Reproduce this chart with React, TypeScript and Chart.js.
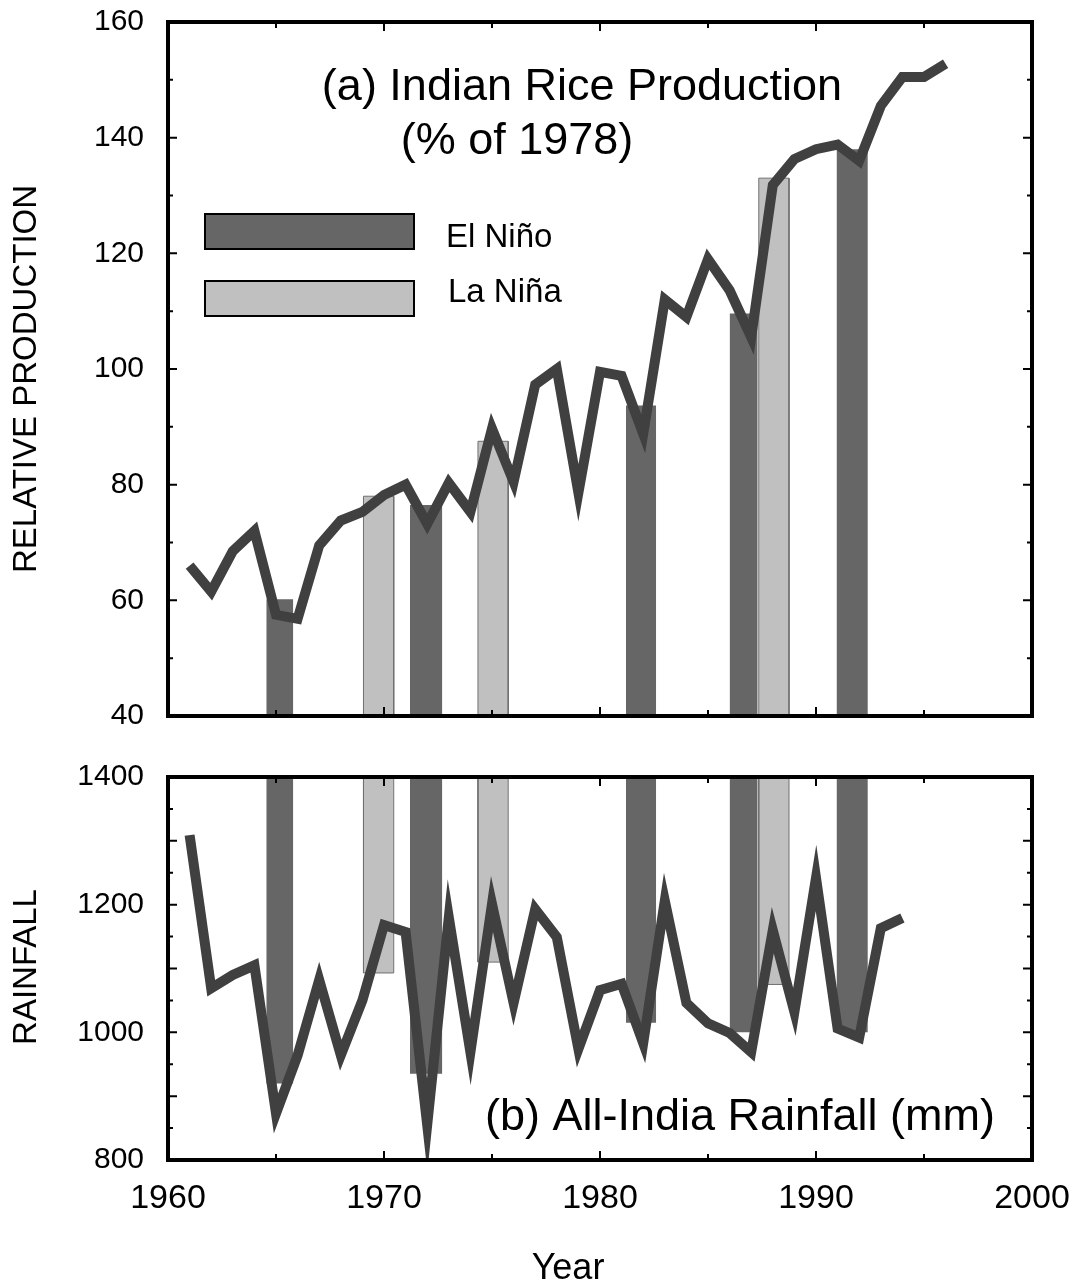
import React, { useEffect, useRef } from "react";
import { Chart, registerables } from "chart.js";

Chart.register(...registerables);

const FONT = "'Liberation Sans', Arial, Helvetica, sans-serif";

// ---- data ----
const productionYears = [1961, 1962, 1963, 1964, 1965, 1966, 1967, 1968, 1969, 1970, 1971, 1972, 1973, 1974, 1975, 1976, 1977, 1978, 1979, 1980, 1981, 1982, 1983, 1984, 1985, 1986, 1987, 1988, 1989, 1990, 1991, 1992, 1993, 1994, 1995, 1996];
const production = [66, 61.5, 68.5, 72, 57.5, 56.8, 69.5, 73.8, 75.3, 78.2, 80, 73.2, 80.3, 75.3, 89.7, 80.5, 97.3, 100, 78.6, 99.5, 98.8, 88.8, 112, 109, 119, 113.6, 105.5, 131.8, 136.3, 138, 138.8, 136, 145.5, 150.5, 150.5, 152.8];

const rainfallYears = [1961, 1962, 1963, 1964, 1965, 1966, 1967, 1968, 1969, 1970, 1971, 1972, 1973, 1974, 1975, 1976, 1977, 1978, 1979, 1980, 1981, 1982, 1983, 1984, 1985, 1986, 1987, 1988, 1989, 1990, 1991, 1992, 1993, 1994];
const rainfall = [1309, 1069, 1090, 1105, 873, 964, 1082, 964, 1050, 1168, 1157, 855, 1180, 969, 1201, 1046, 1193, 1149, 974, 1066, 1076, 983, 1206, 1046, 1014, 999, 969, 1160, 1032, 1242, 1006, 992, 1163, 1179];

const elNinoStart = [1964.55, 1971.2, 1981.2, 1986.0, 1990.95];
const elNinoEnd = [1965.8, 1972.7, 1982.6, 1987.3, 1992.4];
const elNinoProductionTop = [60.2, 76.5, 93.7, 109.6, 138];
const elNinoRainfallBottom = [920, 935, 1015, 1000, 1000];

const laNinaStart = [1969.05, 1974.35, 1987.35];
const laNinaEnd = [1970.45, 1975.75, 1988.75];
const laNinaProductionTop = [78, 87.5, 133];
const laNinaRainfallBottom = [1093, 1110, 1075];

const xTickLabels = [1960, 1970, 1980, 1990, 2000];
const xTickMarks = [1965, 1970, 1975, 1980, 1985, 1990, 1995];
const productionTickMarks = [50, 60, 70, 80, 90, 100, 110, 120, 130, 140, 150];
const rainfallTickMarks = [850, 900, 950, 1000, 1050, 1100, 1150, 1200, 1250, 1300, 1350];

// ---- styles ----
const LINE_COLOR = "#404040";
const EL_NINO_COLOR = "#666666";
const LA_NINA_COLOR = "#c0c0c0";
const LA_NINA_EDGE = "#707070";

function rect(s: number, e: number, base: number, v: number) {
  return [
    { x: s, y: base },
    { x: s, y: v },
    { x: e, y: v },
    { x: e, y: base },
  ];
}

function eventDatasets(
  starts: number[],
  ends: number[],
  values: number[],
  base: number,
  color: string,
  edge: string | null
) {
  return starts.map((s, i) => ({
    type: "line" as const,
    data: rect(s, ends[i], base, values[i]),
    borderColor: edge || color,
    borderWidth: edge ? 1 : 0,
    backgroundColor: color,
    fill: { value: base },
    pointRadius: 0,
    tension: 0,
    order: 2,
  }));
}

function framePlugin(yTicks: number[], majorStep: number) {
  return {
    id: "frame",
    afterDraw(chart: any) {
      const { ctx, chartArea: a, scales } = chart;
      const xs = scales.x;
      const ys = scales.y;
      ctx.save();
      ctx.strokeStyle = "#000";
      ctx.lineWidth = 2;
      ctx.beginPath();
      xTickMarks.forEach((v) => {
        const px = xs.getPixelForValue(v);
        const len = v % 10 === 0 ? 9 : 6;
        ctx.moveTo(px, a.bottom);
        ctx.lineTo(px, a.bottom - len);
        ctx.moveTo(px, a.top);
        ctx.lineTo(px, a.top + len);
      });
      yTicks.forEach((v) => {
        const py = ys.getPixelForValue(v);
        const len = v % majorStep === 0 ? 9 : 5;
        ctx.moveTo(a.left, py);
        ctx.lineTo(a.left + len, py);
        ctx.moveTo(a.right, py);
        ctx.lineTo(a.right - len, py);
      });
      ctx.stroke();
      ctx.lineWidth = 4;
      ctx.strokeRect(a.left, a.top, a.right - a.left, a.bottom - a.top);
      ctx.restore();
    },
  };
}

function text(ctx: CanvasRenderingContext2D, s: string, x: number, y: number, size: number, align: CanvasTextAlign, rotate = false) {
  ctx.save();
  ctx.font = `${size}px ${FONT}`;
  ctx.fillStyle = "#000";
  ctx.textAlign = align;
  if (rotate) {
    ctx.translate(x, y);
    ctx.rotate(-Math.PI / 2);
    ctx.textBaseline = "middle";
    ctx.fillText(s, 0, 0);
  } else {
    ctx.textBaseline = "alphabetic";
    ctx.fillText(s, x, y);
  }
  ctx.restore();
}

const topTextPlugin = {
  id: "topText",
  afterDraw(chart: any) {
    const ctx = chart.ctx as CanvasRenderingContext2D;
    text(ctx, "(a) Indian Rice Production", 582, 100, 45, "center");
    text(ctx, "(% of 1978)", 517, 154, 45, "center");
    ctx.save();
    ctx.lineWidth = 2;
    ctx.strokeStyle = "#000";
    ctx.fillStyle = EL_NINO_COLOR;
    ctx.fillRect(205, 214, 209, 35);
    ctx.strokeRect(205, 214, 209, 35);
    ctx.fillStyle = LA_NINA_COLOR;
    ctx.fillRect(205, 281, 209, 35);
    ctx.strokeRect(205, 281, 209, 35);
    ctx.restore();
    text(ctx, "El Niño", 446, 247, 33, "left");
    text(ctx, "La Niña", 448, 302, 33, "left");
    text(ctx, "RELATIVE PRODUCTION", 27, 379, 33, "center", true);
  },
};

const bottomTextPlugin = {
  id: "bottomText",
  afterDraw(chart: any) {
    const ctx = chart.ctx as CanvasRenderingContext2D;
    text(ctx, "(b) All-India Rainfall (mm)", 740, 385, 45, "center");
    text(ctx, "RAINFALL", 27, 222, 33, "center", true);
    text(ctx, "Year", 568, 534, 36, "center");
  },
};

const W = 1075;
const TOP_H = 745;
const BOT_H = 540;

function noPad(s: any) {
  s.paddingTop = 0;
  s.paddingBottom = 0;
  s.paddingLeft = 0;
  s.paddingRight = 0;
}

export default function App() {
  const topRef = useRef<HTMLCanvasElement>(null);
  const botRef = useRef<HTMLCanvasElement>(null);

  useEffect(() => {
    Chart.defaults.font.family = FONT;
    const xTickFont = { size: 34, family: FONT };
    const yTickFont = { size: 30, family: FONT };

    const top = new Chart(topRef.current!, {
      type: "line",
      data: {
        datasets: [
          {
            data: productionYears.map((x, i) => ({ x, y: production[i] })),
            borderColor: LINE_COLOR,
            borderWidth: 10,
            borderJoinStyle: "miter",
            borderCapStyle: "butt",
            pointRadius: 0,
            tension: 0,
            fill: false,
            order: 0,
          },
          ...eventDatasets(elNinoStart, elNinoEnd, elNinoProductionTop, 40, EL_NINO_COLOR, null),
          ...eventDatasets(laNinaStart, laNinaEnd, laNinaProductionTop, 40, LA_NINA_COLOR, LA_NINA_EDGE),
        ] as any,
      },
      options: {
        responsive: false,
        animation: false,
        devicePixelRatio: 1,
        layout: { autoPadding: false, padding: { top: 22, right: W - 1032, left: 0, bottom: 0 } },
        plugins: { legend: { display: false }, tooltip: { enabled: false }, title: { display: false } },
        scales: {
          x: {
            type: "linear",
            min: 1960,
            max: 2000,
            grid: { display: false },
            border: { display: false },
            ticks: { display: false },
            afterFit: (s: any) => {
              s.height = TOP_H - 716;
              noPad(s);
            },
          },
          y: {
            type: "linear",
            min: 40,
            max: 160,
            grid: { display: false, drawTicks: false },
            border: { display: false },
            ticks: {
              stepSize: 20,
              font: yTickFont,
              color: "#000",
              padding: 24,
              callback: (v: any) => String(v),
            },
            afterFit: (s: any) => {
              s.width = 168;
              noPad(s);
            },
          },
        },
      } as any,
      plugins: [framePlugin(productionTickMarks, 20), topTextPlugin],
    });

    const bottom = new Chart(botRef.current!, {
      type: "line",
      data: {
        datasets: [
          {
            data: rainfallYears.map((x, i) => ({ x, y: rainfall[i] })),
            borderColor: LINE_COLOR,
            borderWidth: 10,
            borderJoinStyle: "miter",
            borderCapStyle: "butt",
            pointRadius: 0,
            tension: 0,
            fill: false,
            order: 0,
          },
          ...eventDatasets(elNinoStart, elNinoEnd, elNinoRainfallBottom, 1400, EL_NINO_COLOR, null),
          ...eventDatasets(laNinaStart, laNinaEnd, laNinaRainfallBottom, 1400, LA_NINA_COLOR, LA_NINA_EDGE),
        ] as any,
      },
      options: {
        responsive: false,
        animation: false,
        devicePixelRatio: 1,
        layout: { autoPadding: false, padding: { top: 777 - TOP_H, right: W - 1032, left: 0, bottom: 0 } },
        plugins: { legend: { display: false }, tooltip: { enabled: false }, title: { display: false } },
        scales: {
          x: {
            type: "linear",
            min: 1960,
            max: 2000,
            grid: { display: false, drawTicks: false },
            border: { display: false },
            afterBuildTicks: (s: any) => {
              s.ticks = xTickLabels.map((value) => ({ value }));
            },
            ticks: {
              font: xTickFont,
              color: "#000",
              padding: 18,
              maxRotation: 0,
              autoSkip: false,
              callback: (v: any) => String(v),
            },
            afterFit: (s: any) => {
              s.height = BOT_H - (1160 - TOP_H);
              noPad(s);
            },
          },
          y: {
            type: "linear",
            min: 800,
            max: 1400,
            grid: { display: false, drawTicks: false },
            border: { display: false },
            ticks: {
              stepSize: 200,
              font: yTickFont,
              color: "#000",
              padding: 24,
              callback: (v: any) => String(v),
            },
            afterFit: (s: any) => {
              s.width = 168;
              noPad(s);
            },
          },
        },
      } as any,
      plugins: [framePlugin(rainfallTickMarks, 100), bottomTextPlugin],
    });

    return () => {
      top.destroy();
      bottom.destroy();
    };
  }, []);

  return (
    <div style={{ position: "absolute", left: 0, top: 0, width: W, height: TOP_H + BOT_H, background: "#fff" }}>
      <canvas ref={topRef} width={W} height={TOP_H} style={{ position: "absolute", left: 0, top: 0, width: W, height: TOP_H }} />
      <canvas ref={botRef} width={W} height={BOT_H} style={{ position: "absolute", left: 0, top: TOP_H, width: W, height: BOT_H }} />
    </div>
  );
}
